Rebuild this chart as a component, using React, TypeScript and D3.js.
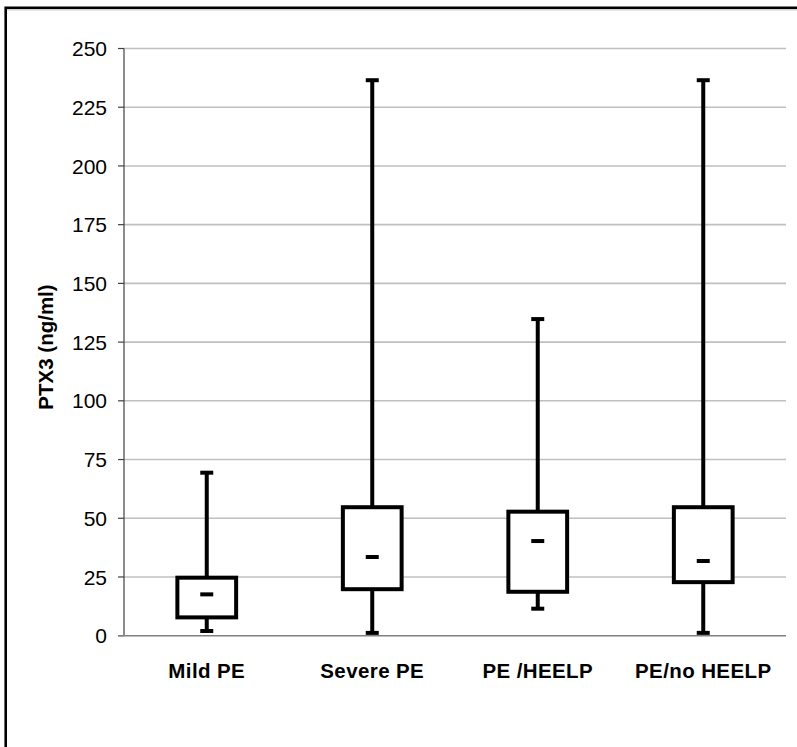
import React from "react";
import * as d3 from "d3";

const categories = ["Mild PE", "Severe PE", "PE /HEELP", "PE/no HEELP"];
const minVals = [2.0, 1.2, 11.5, 1.2];
const q1Vals = [7.8, 19.8, 18.7, 22.8];
const medianVals = [17.6, 33.5, 40.3, 31.8];
const q3Vals = [24.7, 54.7, 52.8, 54.7];
const maxVals = [69.4, 236.5, 134.8, 236.5];
const yTicks = [0, 25, 50, 75, 100, 125, 150, 175, 200, 225, 250];
const yLabel = "PTX3 (ng/ml)";

const W = 797;
const H = 747;
const left = 124;
const right = 786;
const top = 48.5;
const bottom = 635.7;
const font = "'Liberation Sans', Arial, sans-serif";

export default function App() {
  const x = d3.scaleBand<string>().domain(categories).range([left, right]).padding(0);
  const y = d3.scaleLinear().domain([0, 250]).range([bottom, top]);
  const boxW = x.bandwidth() * 0.355;
  const capW = 13;
  const medW = 13;

  return (
    <svg
      width={W}
      height={H}
      style={{ position: "absolute", left: 0, top: 0, background: "#fff" }}
    >
      <rect x={0} y={0} width={W} height={H} fill="#fff" />
      <line x1={5.7} y1={10} x2={W + 10} y2={10} stroke="#d0d0d0" strokeWidth={1} />
      <rect x={5.7} y={7.8} width={W + 20} height={H + 20} fill="none" stroke="#000" strokeWidth={2.6} />
      {yTicks.filter((t) => t > 0).map((t) => (
        <line key={"g" + t} x1={left} x2={right} y1={y(t)} y2={y(t)} stroke="#c0c0c0" strokeWidth={1.6} />
      ))}
      <line x1={left} x2={left} y1={y(250)} y2={y(0)} stroke="#404040" strokeWidth={1.2} />
      {yTicks.map((t) => (
        <g key={"t" + t}>
          <line x1={118} x2={left} y1={y(t)} y2={y(t)} stroke="#404040" strokeWidth={1.2} />
          <text
            x={107}
            y={y(t)}
            dy="0.36em"
            textAnchor="end"
            fontFamily={font}
            fontSize={21}
            fill="#000"
          >
            {t}
          </text>
        </g>
      ))}
      <line x1={118} x2={right} y1={y(0)} y2={y(0)} stroke="#808080" strokeWidth={1.6} />
      <text
        transform={`translate(53,347) rotate(-90)`}
        textAnchor="middle"
        fontFamily={font}
        fontSize={20.5}
        fontWeight="bold"
        fill="#000"
      >
        {yLabel}
      </text>
      {categories.map((c, i) => {
        const cx = (x(c) as number) + x.bandwidth() / 2;
        return (
          <g key={c}>
            <line x1={cx} x2={cx} y1={y(q3Vals[i])} y2={y(maxVals[i])} stroke="#000" strokeWidth={4} />
            <line x1={cx} x2={cx} y1={y(q1Vals[i])} y2={y(minVals[i])} stroke="#000" strokeWidth={4} />
            <line x1={cx - capW / 2} x2={cx + capW / 2} y1={y(maxVals[i])} y2={y(maxVals[i])} stroke="#000" strokeWidth={4} />
            <line x1={cx - capW / 2} x2={cx + capW / 2} y1={y(minVals[i])} y2={y(minVals[i])} stroke="#000" strokeWidth={4} />
            <rect
              x={cx - boxW / 2}
              y={y(q3Vals[i])}
              width={boxW}
              height={y(q1Vals[i]) - y(q3Vals[i])}
              fill="#fff"
              stroke="#000"
              strokeWidth={4}
            />
            <line x1={cx - medW / 2} x2={cx + medW / 2} y1={y(medianVals[i])} y2={y(medianVals[i])} stroke="#000" strokeWidth={4} />
            <text
              x={cx}
              y={678}
              textAnchor="middle"
              fontFamily={font}
              fontSize={20.5}
              fontWeight="bold"
              letterSpacing={0.4}
              fill="#000"
            >
              {c}
            </text>
          </g>
        );
      })}
    </svg>
  );
}
